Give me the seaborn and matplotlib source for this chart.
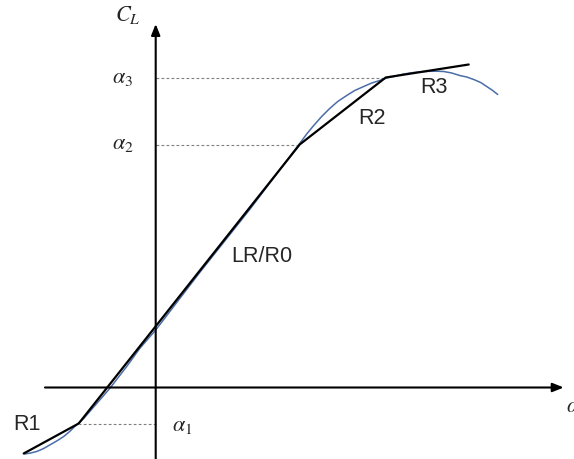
import matplotlib
matplotlib.use("Agg")
import matplotlib.pyplot as plt
import seaborn as sns
import pandas as pd

sns.set_theme(style="white")
plt.rcParams["font.family"] = ["Liberation Sans", "DejaVu Sans"]
plt.rcParams["mathtext.fontset"] = "stix"

# Piecewise-linear model of the lift curve (regions R1, LR/R0, R2, R3)
model_alpha = [-132, -77, 144, 230, 313]
model_cl = [-66, -36, 243, 310, 323]

# Measured lift curve
meas_alpha = [-131, -125, -119, -112, -106, -99, -92, -86, -81, -72, -59, -46, -29,
              -16, 0, 44, 94, 144, 151, 158, 166, 174, 182, 191, 199, 208, 216,
              224, 231, 238, 248, 258, 266, 274, 281, 288, 296, 304, 311, 318,
              325, 331, 337, 342]
meas_cl = [-66.5, -65.5, -64, -61, -57.5, -53.5, -49, -44, -39, -31, -16, -1, 21,
           39, 57.5, 115, 178, 244, 253.5, 262, 271, 279, 286, 292, 297, 301, 304.5,
           307, 309.5, 311, 313.5, 315, 315.8, 316.2, 316.3, 316, 314.5, 312,
           310.5, 308, 305, 301, 297, 293]

# Breakpoint levels marked on the C_L axis
break_labels = [r"$\alpha_1$", r"$\alpha_2$", r"$\alpha_3$"]
break_alpha = [-77, 144, 230]
break_cl = [-36, 243, 310]

region_labels = ["R1", "LR/R0", "R2", "R3"]
region_x = [-129, 106, 216, 278]
region_y = [-37.5, 131, 269.5, 300]

model_df = pd.DataFrame({"alpha": model_alpha, "cl": model_cl})
meas_df = pd.DataFrame({"alpha": meas_alpha, "cl": meas_cl})

fig = plt.figure(figsize=(5.74, 4.59), dpi=100)
ax = fig.add_axes([0, 0, 1, 1])
ax.set_xlim(-155.7, 418.3)
ax.set_ylim(-71.5, 387.5)
ax.axis("off")

# Coordinate axes with arrowheads
arrow = dict(arrowstyle="-|>,head_length=0.55,head_width=0.22", color="black",
             lw=1.5, shrinkA=0, shrinkB=0)
ax.annotate("", xy=(0, 363.5), xytext=(0, -72), arrowprops=arrow)
ax.annotate("", xy=(408, 0), xytext=(-110.7, 0), arrowprops=arrow)

# Dashed guides from the C_L axis to each breakpoint
for bx, by in zip(break_alpha, break_cl):
    ax.plot([0, bx], [by, by], color="#7f7f7f", lw=0.8, ls=(0, (2.5, 2)), zorder=1)

sns.lineplot(data=meas_df, x="alpha", y="cl", sort=False, color="#4a6da8",
             lw=1.1, ax=ax, zorder=2)
sns.lineplot(data=model_df, x="alpha", y="cl", sort=False, color="black",
             lw=1.6, ax=ax, zorder=3)

# Breakpoint labels
ax.text(27, -37.5, break_labels[0], fontsize=16, ha="center", va="center")
ax.text(-33, 243.5, break_labels[1], fontsize=16, ha="center", va="center")
ax.text(-33, 309.5, break_labels[2], fontsize=16, ha="center", va="center")
ax.text(-28, 372.5, r"$C_L$", fontsize=16, ha="center", va="center")
ax.text(410, -19, r"$\alpha$", fontsize=16, ha="left", va="center")

for lab, tx, ty in zip(region_labels, region_x, region_y):
    ax.text(tx, ty, lab, fontsize=15.5, ha="center", va="center")

fig.savefig("out.png", dpi=100)
